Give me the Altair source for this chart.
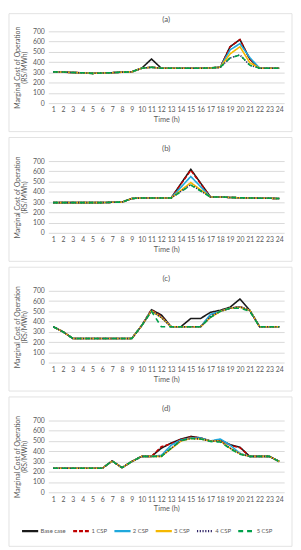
import altair as alt
import pandas as pd

hours = list(range(1, 25))
series = ["Base case", "1 CSP", "2 CSP", "3 CSP", "4 CSP", "5 CSP"]
colors = ["#1a1a1a", "#c00000", "#1fa8dc", "#f5b800", "#2f2466", "#00a04a"]
dashes = [[1, 0], [4, 2], [1, 0], [1, 0], [1.2, 1.6], [5, 4]]
panel_titles = ["(a)", "(b)", "(c)", "(d)"]

# ---- panel (a)
a_base = [305, 303, 298, 296, 290, 294, 297, 302, 305, 340, 430, 340, 340, 340, 340, 340, 343, 350, 550, 620, 430, 340, 340, 340]
a_csp1 = [305, 303, 298, 296, 290, 294, 297, 302, 305, 340, 350, 340, 340, 340, 340, 340, 343, 350, 550, 620, 430, 340, 340, 340]
a_csp2 = [305, 303, 298, 296, 290, 294, 297, 302, 305, 340, 350, 340, 340, 340, 340, 340, 343, 350, 520, 580, 445, 340, 340, 340]
a_csp3 = [305, 303, 298, 296, 290, 294, 297, 302, 305, 340, 350, 340, 340, 340, 340, 340, 343, 350, 480, 550, 395, 340, 340, 340]
a_csp4 = [305, 303, 298, 296, 290, 294, 297, 302, 305, 340, 350, 340, 340, 340, 340, 340, 343, 350, 440, 470, 370, 340, 340, 340]
a_csp5 = [305, 303, 298, 296, 290, 294, 297, 302, 305, 340, 350, 340, 340, 340, 340, 340, 343, 350, 440, 470, 370, 340, 340, 340]

# ---- panel (b)
b_base = [295, 295, 295, 295, 295, 295, 298, 300, 335, 340, 340, 340, 340, 480, 620, 485, 350, 350, 345, 342, 340, 338, 337, 335]
b_csp1 = [295, 295, 295, 295, 295, 295, 298, 300, 335, 340, 340, 340, 340, 475, 610, 480, 350, 350, 345, 342, 340, 338, 337, 335]
b_csp2 = [295, 295, 295, 295, 295, 295, 298, 300, 335, 340, 340, 340, 340, 445, 550, 450, 350, 350, 345, 342, 340, 338, 337, 335]
b_csp3 = [295, 295, 295, 295, 295, 295, 298, 300, 335, 340, 340, 340, 340, 415, 490, 420, 350, 350, 345, 342, 340, 338, 337, 335]
b_csp4 = [295, 295, 295, 295, 295, 295, 298, 300, 335, 340, 340, 340, 340, 405, 470, 410, 350, 350, 345, 342, 340, 338, 337, 335]
b_csp5 = [295, 295, 295, 295, 295, 295, 298, 300, 335, 340, 340, 340, 340, 402, 465, 408, 350, 350, 345, 342, 340, 338, 337, 335]

# ---- panel (c)
c_base = [350, 300, 235, 235, 235, 235, 235, 235, 235, 360, 515, 465, 350, 350, 430, 430, 490, 510, 540, 620, 510, 350, 350, 350]
c_csp1 = [350, 300, 235, 235, 235, 235, 235, 235, 235, 360, 515, 450, 350, 350, 350, 350, 460, 500, 530, 545, 510, 350, 350, 350]
c_csp2 = [350, 300, 235, 235, 235, 235, 235, 235, 235, 360, 505, 440, 350, 350, 350, 350, 470, 500, 530, 540, 510, 350, 350, 350]
c_csp3 = [350, 300, 235, 235, 235, 235, 235, 235, 235, 360, 505, 440, 350, 350, 350, 350, 440, 500, 530, 540, 510, 350, 350, 350]
c_csp4 = [350, 300, 235, 235, 235, 235, 235, 235, 235, 360, 505, 440, 350, 350, 350, 350, 445, 500, 530, 545, 510, 350, 350, 350]
c_csp5 = [350, 300, 235, 235, 235, 235, 235, 235, 235, 360, 500, 350, 350, 350, 350, 350, 440, 500, 530, 530, 500, 350, 350, 350]

# ---- panel (d)
d_base = [235, 235, 235, 235, 235, 235, 305, 240, 300, 350, 350, 430, 480, 520, 545, 530, 500, 510, 465, 440, 350, 350, 350, 300]
d_csp1 = [235, 235, 235, 235, 235, 235, 305, 240, 300, 350, 350, 445, 475, 515, 540, 530, 500, 505, 460, 435, 350, 350, 350, 300]
d_csp2 = [235, 235, 235, 235, 235, 235, 305, 240, 300, 350, 350, 360, 460, 510, 530, 530, 500, 520, 460, 380, 350, 350, 350, 300]
d_csp3 = [235, 235, 235, 235, 235, 235, 305, 240, 300, 350, 350, 350, 425, 500, 525, 520, 500, 500, 430, 375, 350, 350, 350, 300]
d_csp4 = [235, 235, 235, 235, 235, 235, 305, 240, 300, 350, 350, 350, 430, 505, 525, 520, 500, 500, 430, 375, 350, 350, 350, 300]
d_csp5 = [235, 235, 235, 235, 235, 235, 305, 240, 300, 350, 350, 350, 430, 505, 525, 520, 495, 490, 425, 370, 350, 350, 350, 300]

panels = [
    [a_base, a_csp1, a_csp2, a_csp3, a_csp4, a_csp5],
    [b_base, b_csp1, b_csp2, b_csp3, b_csp4, b_csp5],
    [c_base, c_csp1, c_csp2, c_csp3, c_csp4, c_csp5],
    [d_base, d_csp1, d_csp2, d_csp3, d_csp4, d_csp5],
]

FONT = "Lato"
GRAY = "#595959"
W, H = 240, 73


def make_panel(idx):
    rows = []
    for s, vals in zip(series, panels[idx]):
        for h, v in zip(hours, vals):
            rows.append({"Hour": h, "Value": v, "Series": s})
    df = pd.DataFrame(rows)
    last = idx == 3
    frame_top = -18 if idx == 0 else -24
    frame_bottom = 128 if last else 102

    frame = alt.Chart(pd.DataFrame({"k": [0]})).mark_rect(
        fill="white", fillOpacity=0, stroke="#e2e2e2", strokeWidth=1
    ).encode(
        x=alt.value(-40), x2=alt.value(248),
        y=alt.value(frame_top), y2=alt.value(frame_bottom),
    )

    title = alt.Chart(pd.DataFrame({"t": [panel_titles[idx]]})).mark_text(
        font=FONT, fontSize=8, color=GRAY
    ).encode(x=alt.value(W / 2), y=alt.value(-12), text="t:N")

    lines = alt.Chart(df).mark_line(strokeWidth=1.6).encode(
        x=alt.X("Hour:Q", scale=alt.Scale(domain=[0.5, 24.5], nice=False, zero=False),
                axis=alt.Axis(values=hours, title="Time (h)", grid=False, domain=False,
                              ticks=False, labelFont=FONT, labelFontSize=7, labelColor=GRAY,
                              labelPadding=3, titleFont=FONT, titleFontSize=7.5,
                              titleFontWeight="normal", titleColor=GRAY, titlePadding=3,
                              labelFlush=False)),
        y=alt.Y("Value:Q", scale=alt.Scale(domain=[0, 700], nice=False),
                axis=alt.Axis(values=list(range(0, 701, 100)),
                              title=["Marginal Cost of Operation", "(RS/MWh)"],
                              grid=True, gridColor="#d9d9d9", gridWidth=1,
                              domain=False, ticks=False, labelFont=FONT, labelFontSize=7,
                              labelColor=GRAY, labelPadding=4, titleFont=FONT,
                              titleFontSize=7, titleFontWeight="normal", titleColor=GRAY,
                              titlePadding=5, titleLineHeight=7.5)),
        color=alt.Color("Series:N", scale=alt.Scale(domain=series, range=colors),
                        sort=series,
                        legend=alt.Legend(title=None, orient="none", legendX=-28, legendY=499,
                                          direction="horizontal", columns=6,
                                          symbolType="stroke", symbolSize=270,
                                          symbolStrokeWidth=2.2, labelFont=FONT,
                                          labelFontSize=6, labelColor=GRAY,
                                          columnPadding=2, labelOffset=1,
                                          padding=0, offset=0, gridAlign="none")),
        strokeDash=alt.StrokeDash("Series:N", scale=alt.Scale(domain=series, range=dashes),
                                  sort=series, legend=None),
    )
    return alt.layer(frame, title, lines).properties(width=W, height=H)


chart = alt.vconcat(*[make_panel(i) for i in range(4)], spacing=4).properties(
    padding=0
).configure_view(stroke=None).configure_legend(strokeColor=None)

chart.save("out.html", embed_options={"renderer": "svg", "actions": False})
